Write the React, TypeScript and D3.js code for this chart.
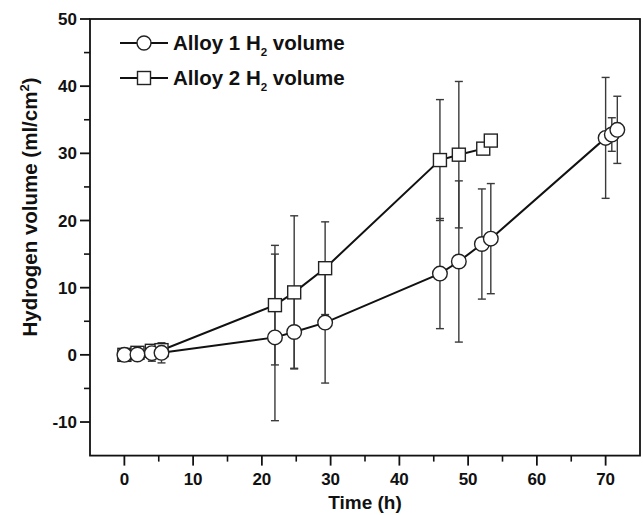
import React from "react";
import * as d3 from "d3";

const time1 = [0, 1.9, 4.0, 5.4, 21.9, 24.7, 29.2, 45.9, 48.65, 52.0, 53.3, 70.0, 70.9, 71.7];
const vol1 = [0, 0.05, 0.25, 0.3, 2.6, 3.4, 4.8, 12.1, 13.9, 16.5, 17.3, 32.3, 32.8, 33.5];
const err1 = [0.3, 0.3, 1.2, 1.5, 12.4, 5.4, 9.0, 8.2, 12.0, 8.2, 8.2, 9.0, 2.5, 5.0];

const time2 = [0, 1.9, 4.0, 5.4, 21.9, 24.7, 29.2, 45.9, 48.65, 52.2, 53.3];
const vol2 = [0, 0.3, 0.6, 0.7, 7.4, 9.3, 12.9, 29.0, 29.8, 30.7, 31.9];
const err2 = [0.2, 0.3, 0.6, 0.8, 8.9, 11.4, 6.9, 9.0, 10.9, 0, 0];

const xTicks = [0, 10, 20, 30, 40, 50, 60, 70];
const yTicks = [-10, 0, 10, 20, 30, 40, 50];
const seriesNames = ["Alloy 1 H", "Alloy 2 H"];

const W = 643, H = 515;
const L = 90, R = 640, T = 19, B = 455.6;

export default function App() {
  const x = d3.scaleLinear().domain([-5, 75]).range([L, R]);
  const y = d3.scaleLinear().domain([-15, 50]).range([B, T]);
  const line = d3.line<[number, number]>().x(d => x(d[0])).y(d => y(d[1]));
  const s1 = time1.map((t, i) => [t, vol1[i]] as [number, number]);
  const s2 = time2.map((t, i) => [t, vol2[i]] as [number, number]);
  const xMinor = d3.range(-5, 76, 5).filter(v => v % 10 !== 0 && v > -5 && v < 75);
  const yMinor = d3.range(-15, 51, 5).filter(v => v % 10 !== 0 && v > -15);
  const font = "Arial, 'Liberation Sans', sans-serif";
  const errCol = "#3a3a3a";
  const cap = 4;
  const bars = (ts: number[], vs: number[], es: number[]) =>
    ts.map((t, i) => {
      if (es[i] <= 0) return null;
      const cx = x(t), y1 = y(vs[i] + es[i]), y2 = y(vs[i] - es[i]);
      return (
        <g key={i} stroke={errCol} strokeWidth={1.4}>
          <line x1={cx} x2={cx} y1={y1} y2={y2} />
          <line x1={cx - cap} x2={cx + cap} y1={y1} y2={y1} />
          <line x1={cx - cap} x2={cx + cap} y1={y2} y2={y2} />
        </g>
      );
    });
  const legendY = [43, 78];
  return (
    <svg width={W} height={H} style={{ position: "absolute", left: 0, top: 0, background: "#fff" }} fontFamily={font}>
      <rect x={0} y={0} width={W} height={H} fill="#fff" />
      {bars(time2, vol2, err2)}
      {bars(time1, vol1, err1)}
      <path d={line(s2) || ""} fill="none" stroke="#111" strokeWidth={2} />
      <path d={line(s1) || ""} fill="none" stroke="#111" strokeWidth={2} />
      {s2.map((d, i) => (
        <rect key={"s" + i} x={x(d[0]) - 6.5} y={y(d[1]) - 6.5} width={13} height={13} fill="#fff" stroke="#222" strokeWidth={1.4} />
      ))}
      {s1.map((d, i) => (
        <circle key={"c" + i} cx={x(d[0])} cy={y(d[1])} r={7.3} fill="#fff" stroke="#222" strokeWidth={1.4} />
      ))}
      <rect x={L} y={T} width={R - L} height={B - T} fill="none" stroke="#111" strokeWidth={1.8} />
      {xTicks.map(v => (
        <g key={"xt" + v}>
          <line x1={x(v)} x2={x(v)} y1={B} y2={B + 10} stroke="#111" strokeWidth={1.8} />
          <text x={x(v)} y={485} textAnchor="middle" fontSize={17} fontWeight="bold" fill="#111">{v}</text>
        </g>
      ))}
      {xMinor.map(v => (
        <line key={"xm" + v} x1={x(v)} x2={x(v)} y1={B} y2={B + 6} stroke="#111" strokeWidth={1.6} />
      ))}
      {yTicks.map(v => (
        <g key={"yt" + v}>
          <line x1={L - 10} x2={L} y1={y(v)} y2={y(v)} stroke="#111" strokeWidth={1.8} />
          <text x={77} y={y(v) + 6} textAnchor="end" fontSize={17} fontWeight="bold" fill="#111">{v}</text>
        </g>
      ))}
      {yMinor.map(v => (
        <line key={"ym" + v} x1={L - 6} x2={L} y1={y(v)} y2={y(v)} stroke="#111" strokeWidth={1.6} />
      ))}
      <text x={365} y={509} textAnchor="middle" fontSize={19} fontWeight="bold" fill="#111">Time (h)</text>
      <text transform={`translate(37,${207}) rotate(-90)`} textAnchor="middle" fontSize={20.5} fontWeight="bold" fill="#111">
        Hydrogen volume (ml/cm<tspan fontSize={13} dy={-8}>2</tspan><tspan dy={8}>)</tspan>
      </text>
      {seriesNames.map((n, i) => (
        <g key={"lg" + i}>
          <line x1={120} x2={168} y1={legendY[i]} y2={legendY[i]} stroke="#111" strokeWidth={2} />
          {i === 0 ? (
            <circle cx={144} cy={legendY[i]} r={7} fill="#fff" stroke="#222" strokeWidth={1.4} />
          ) : (
            <rect x={137.5} y={legendY[i] - 6.5} width={13} height={13} fill="#fff" stroke="#222" strokeWidth={1.4} />
          )}
          <text x={173} y={legendY[i] + 7} fontSize={20.5} fontWeight="bold" fill="#111">
            {n}<tspan fontSize={11.5} dy={6}>2</tspan><tspan dy={-6}> volume</tspan>
          </text>
        </g>
      ))}
    </svg>
  );
}
